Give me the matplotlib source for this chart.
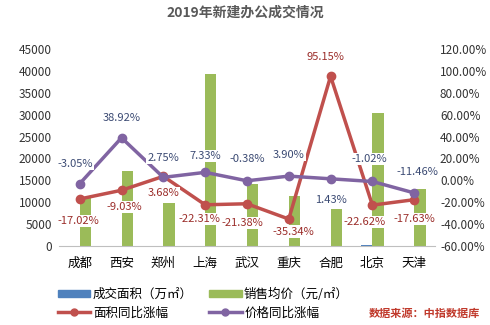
import numpy as np
import matplotlib
matplotlib.use("Agg")
import matplotlib.pyplot as plt
from matplotlib.lines import Line2D
from matplotlib.patches import Patch

plt.rcParams['font.family'] = ['Noto Sans CJK SC', 'DejaVu Sans']

# data
cities = ["成都", "西安", "郑州", "上海", "武汉", "重庆", "合肥", "北京", "天津"]
area = [90, 70, 60, 110, 80, 50, 40, 120, 60]            # 成交面积（万㎡）
price = [11000, 17200, 9900, 39200, 14100, 11500, 8500, 30300, 13000]  # 销售均价（元/㎡）
area_yoy = [-17.02, -9.03, 3.68, -22.31, -21.38, -35.34, 95.15, -22.62, -17.63]
price_yoy = [-3.05, 38.92, 2.75, 7.33, -0.38, 3.90, 1.43, -1.02, -11.46]

# label offsets in points (dx, dy)
price_off = [(-3, 14), (0, 14), (0, 14), (0, 12), (0, 16), (0, 15), (0, -15), (-2, 16), (2, 15)]
area_off = [(-1, -16), (2, -12), (0, -12), (-4, -10), (-3, -14), (3, -9), (-4, 14), (-6, -12), (0, -14)]

blue, green, red, purple = "#4f81bd", "#9bbb59", "#c0504d", "#8064a2"

fig = plt.figure(figsize=(4.9, 3.25), dpi=100)
ax = fig.add_axes([0.12, 0.243, 0.768, 0.606])
x = np.arange(len(cities))
w = 0.27
ax.bar(x - w / 2, area, w, color=blue, zorder=2)
ax.bar(x + w / 2, price, w, color=green, zorder=2)
ax.set_ylim(0, 45000)
ax.set_yticks(range(0, 45001, 5000))
ax.set_xlim(-0.5, len(cities) - 0.5)
ax.set_xticks(x)
ax.set_xticklabels(cities, fontsize=9)
ax.tick_params(axis="y", labelsize=8.5, length=0, colors="#333333", pad=5)
ax.tick_params(axis="x", length=0, pad=8)
for s in ["top", "left", "right"]:
    ax.spines[s].set_visible(False)
ax.spines["bottom"].set_color("#bfbfbf")

ax2 = ax.twinx()
ax2.set_ylim(-60, 120)
ax2.set_yticks(range(-60, 121, 20))
ax2.set_yticklabels([f"{v:.2f}%" for v in range(-60, 121, 20)])
ax2.tick_params(axis="y", labelsize=8.5, length=0, colors="#333333")
for s in ["top", "left", "right", "bottom"]:
    ax2.spines[s].set_visible(False)

ax2.plot(x, area_yoy, color=red, lw=2.5, marker="o", ms=6, zorder=3)
ax2.plot(x, price_yoy, color=purple, lw=2.5, marker="o", ms=6, zorder=3)

box = dict(boxstyle="square,pad=0.1", fc="white", ec="none")
for i in x:
    ax2.annotate(f"{price_yoy[i]:.2f}%", (i, price_yoy[i]), xytext=price_off[i],
                 textcoords="offset points", ha="center", va="center",
                 fontsize=8, color="#3b4a73", bbox=box, zorder=4)
    ax2.annotate(f"{area_yoy[i]:.2f}%", (i, area_yoy[i]), xytext=area_off[i],
                 textcoords="offset points", ha="center", va="center",
                 fontsize=8, color="#9b2d2a", bbox=box, zorder=4)

fig.text(0.5, 0.962, "2019年新建办公成交情况", ha="center", va="center",
         fontsize=10, fontweight="bold", color="#595959")

handles = [Patch(color=blue), Patch(color=green),
           Line2D([], [], color=red, lw=2.5, marker="o", ms=5),
           Line2D([], [], color=purple, lw=2.5, marker="o", ms=5)]
labels = ["成交面积（万㎡）", "销售均价（元/㎡）", "面积同比涨幅", "价格同比涨幅"]
fig.legend([handles[0], handles[2], handles[1], handles[3]],
           [labels[0], labels[2], labels[1], labels[3]],
           ncol=2, loc="center left", bbox_to_anchor=(0.095, 0.066),
           frameon=False, fontsize=9, handlelength=2.6, handleheight=0.55,
           columnspacing=1.3, labelspacing=0.45, handletextpad=0.2)

fig.text(0.98, 0.037, "数据来源：中指数据库", ha="right", va="center",
         fontsize=8, fontweight="bold", style="italic", color="#c0392b")

fig.savefig("out.png", dpi=100)
